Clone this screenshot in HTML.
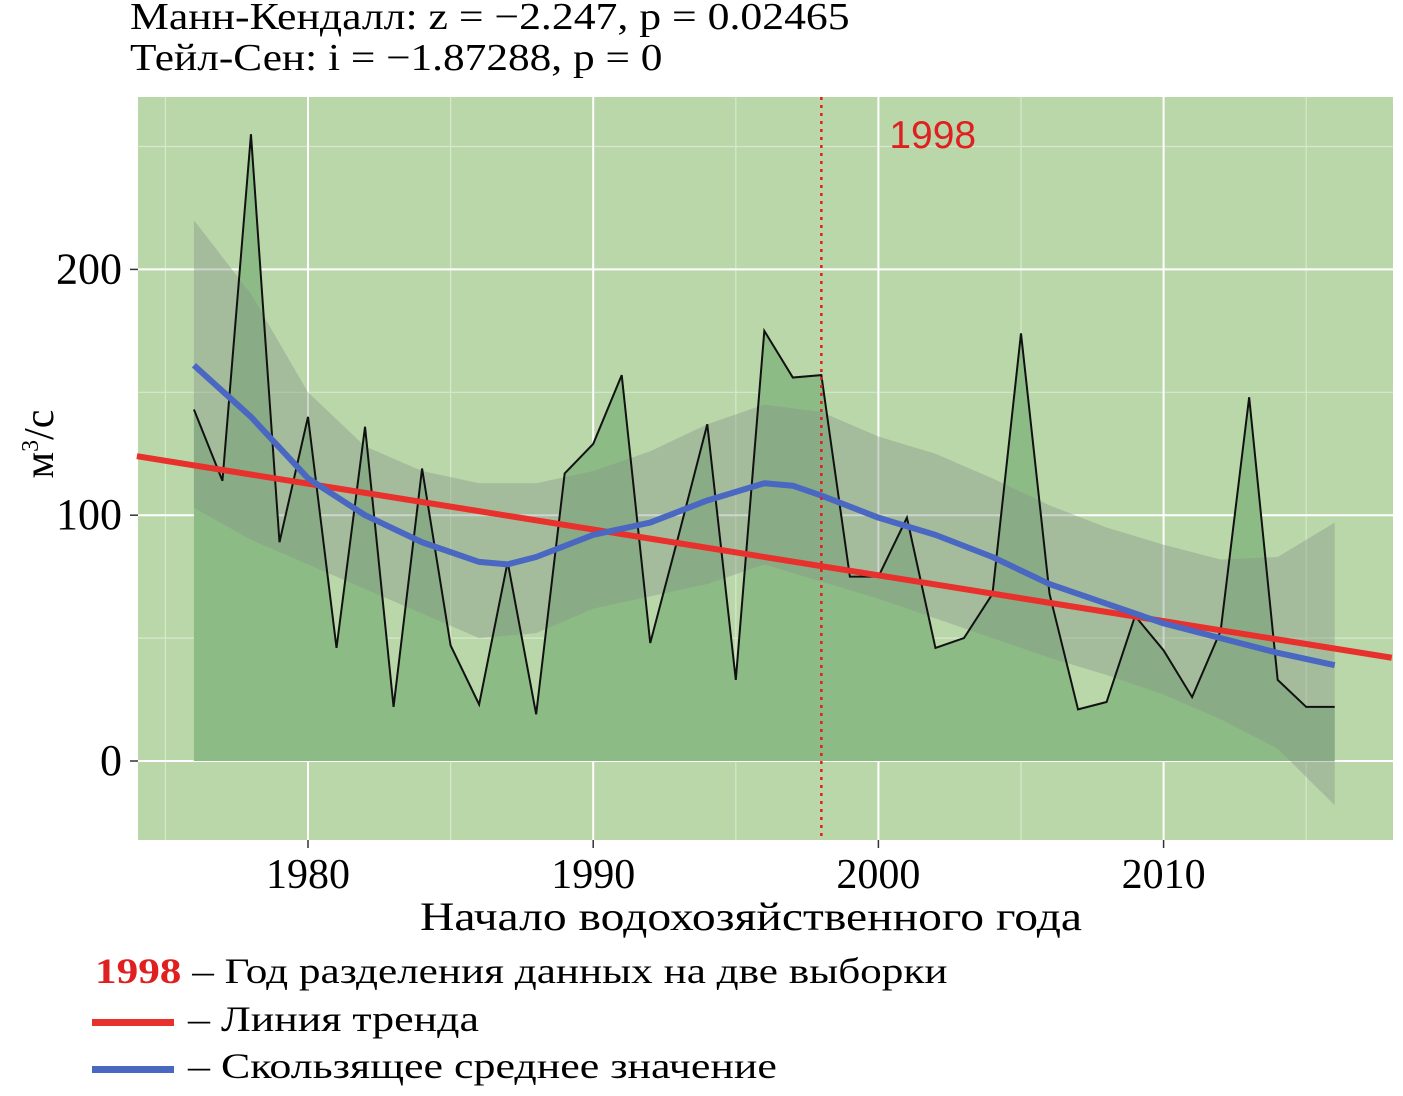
<!DOCTYPE html>
<html><head><meta charset="utf-8"><style>
body{margin:0;background:#fff;width:1403px;height:1096px;overflow:hidden}
svg{display:block}
.s{font-family:"Liberation Serif",serif}
.sx{display:inline-block;transform-origin:0 50%;white-space:nowrap}
</style></head><body>
<svg id="chart" width="1403" height="1096">
<g id="bg"></g>
<g id="marks"></g>
<g id="ann"></g>
</svg>
<script>
const years=[1976,1977,1978,1979,1980,1981,1982,1983,1984,1985,1986,1987,1988,1989,1990,1991,1992,1993,1994,1995,1996,1997,1998,1999,2000,2001,2002,2003,2004,2005,2006,2007,2008,2009,2010,2011,2012,2013,2014,2015,2016];
const flow=[143,114,255,89,140,46,136,22,119,47,23,81,19,117,129,157,48,92,137,33,175,156,157,75,75,99,46,50,68,174,68,21,24,59,45,26,53,148,33,22,22];
const smoothYears=[1976,1978,1980,1982,1984,1986,1987,1988,1990,1992,1994,1996,1997,1998,2000,2002,2004,2006,2008,2010,2012,2014,2016];
const smoothVals=[161,140,115,100,89,81,80,83,92,97,106,113,112,108,99,92,83,72,64,56,50,44,39];
const bandYears=[1976,1978,1980,1982,1984,1986,1988,1990,1992,1994,1996,1998,2000,2002,2004,2006,2008,2010,2012,2014,2016];
const bandUpper=[220,190,150,128,118,113,113,118,126,137,145,142,132,125,115,104,95,88,82,83,97];
const bandLower=[103,90,80,70,60,50,52,62,67,72,80,73,66,58,50,42,35,27,17,5,-18];
const trendStart=[1974,124];const trendEnd=[2018,42];
const xTicks=[1980,1990,2000,2010];const yTicks=[0,100,200];
const splitYear=1998;

const X=y=>308+(y-1980)*28.52;
const Y=v=>761-v*2.458;
const NS="http://www.w3.org/2000/svg";
function mk(p,t,a){const e=document.createElementNS(NS,t);for(const k in a)e.setAttribute(k,a[k]);p.appendChild(e);return e;}
const bg=document.getElementById('bg'),mg=document.getElementById('marks'),an=document.getElementById('ann');
const L=138,R=1393,T=97,B=840;
let panel=mk(bg,'rect',{x:L,y:T,width:R-L,height:B-T,fill:'#bad7aa'});

[1975,1985,1995,2005,2015].forEach(y=>mk(bg,'line',{x1:X(y),x2:X(y),y1:T,y2:B,stroke:'#d6e8cc','stroke-width':1.2}));
[50,150,250].forEach(v=>mk(bg,'line',{x1:L,x2:R,y1:Y(v),y2:Y(v),stroke:'#d6e8cc','stroke-width':1.2}));
xTicks.forEach(y=>{mk(bg,'line',{x1:X(y),x2:X(y),y1:T,y2:B,stroke:'#fff','stroke-width':2});
 mk(bg,'line',{x1:X(y),x2:X(y),y1:B,y2:B+8,stroke:'#333','stroke-width':1.5});
 let t=mk(an,'text',{x:X(y),y:888,'text-anchor':'middle','font-size':42,class:'s'});t.textContent=y;
 });
yTicks.forEach(v=>{mk(bg,'line',{x1:L,x2:R,y1:Y(v),y2:Y(v),stroke:'#fff','stroke-width':2});
 mk(bg,'line',{x1:L-8,x2:L,y1:Y(v),y2:Y(v),stroke:'#333','stroke-width':1.5});
 let t=mk(an,'text',{x:L-16,y:Y(v)+14,'text-anchor':'end','font-size':44,class:'s'});t.textContent=v;
 });
let d='M'+X(years[0])+','+Y(0);years.forEach((y,i)=>d+='L'+X(y)+','+Y(flow[i]));d+='L'+X(years[years.length-1])+','+Y(0)+'Z';
let area=mk(mg,'path',{d:d,fill:'#8dbb85'});
let bd='M';bandYears.forEach((y,i)=>bd+=(i?'L':'')+X(y)+','+Y(bandUpper[i]));
for(let i=bandYears.length-1;i>=0;i--)bd+='L'+X(bandYears[i])+','+Y(bandLower[i]);bd+='Z';
let band=mk(mg,'path',{d:bd,fill:'#849484','fill-opacity':0.4});
let ln=mk(mg,'polyline',{points:years.map((y,i)=>X(y)+','+Y(flow[i])).join(' '),fill:'none',stroke:'#111','stroke-width':2});

let tr=mk(mg,'line',{x1:X(trendStart[0]),y1:Y(trendStart[1]),x2:X(trendEnd[0]),y2:Y(trendEnd[1]),stroke:'#e8302c','stroke-width':6});

let sm=mk(mg,'polyline',{points:smoothYears.map((y,i)=>X(y)+','+Y(smoothVals[i])).join(' '),fill:'none',stroke:'#4a67c2','stroke-width':6,'stroke-linejoin':'round'});

let sp=mk(mg,'line',{x1:X(splitYear),x2:X(splitYear),y1:T,y2:B,stroke:'#e02020','stroke-width':2.5,'stroke-dasharray':'3,5'});

let st=mk(an,'text',{x:X(splitYear)+68,y:148,fill:'#e02020','font-size':39,'font-family':'Liberation Sans,sans-serif'});st.textContent=splitYear;

</script>
<div style="position:absolute;left:0;top:0;width:1403px;height:1096px;pointer-events:none" class="s">
<div style="position:absolute;left:130px;top:-3px;font-size:38px;line-height:40px"><span class="sx" style="transform:scaleX(1.15)">Манн-Кендалл: z = −2.247, p = 0.02465</span></div>
<div style="position:absolute;left:130px;top:38px;font-size:38px;line-height:40px"><span class="sx" style="transform:scaleX(1.14)">Тейл-Сен: i = −1.87288, p = 0</span></div>
<div style="position:absolute;left:-10px;top:420px;width:100px;font-size:42px;transform:rotate(-90deg);text-align:center">м<sup style="font-size:24px">3</sup>/с</div>
<div style="position:absolute;left:420px;top:893px;font-size:40px"><span class="sx" style="transform:scaleX(1.19)">Начало водохозяйственного года</span></div>
<div style="position:absolute;left:95px;top:950px;font-size:36px"><span class="sx" style="transform:scaleX(1.2)"><b style="color:#e02020">1998</b> – Год разделения данных на две выборки</span></div>
<div style="position:absolute;left:92px;top:998px;font-size:36px"><span style="display:inline-block;width:82px;height:7px;background:#e8302c;vertical-align:middle;margin-right:14px"></span><span class="sx" style="transform:scaleX(1.22)">– Линия тренда</span></div>
<div style="position:absolute;left:92px;top:1045px;font-size:36px"><span style="display:inline-block;width:82px;height:7px;background:#4a67c2;vertical-align:middle;margin-right:14px"></span><span class="sx" style="transform:scaleX(1.22)">– Скользящее среднее значение</span></div>
</div>
</body></html>
